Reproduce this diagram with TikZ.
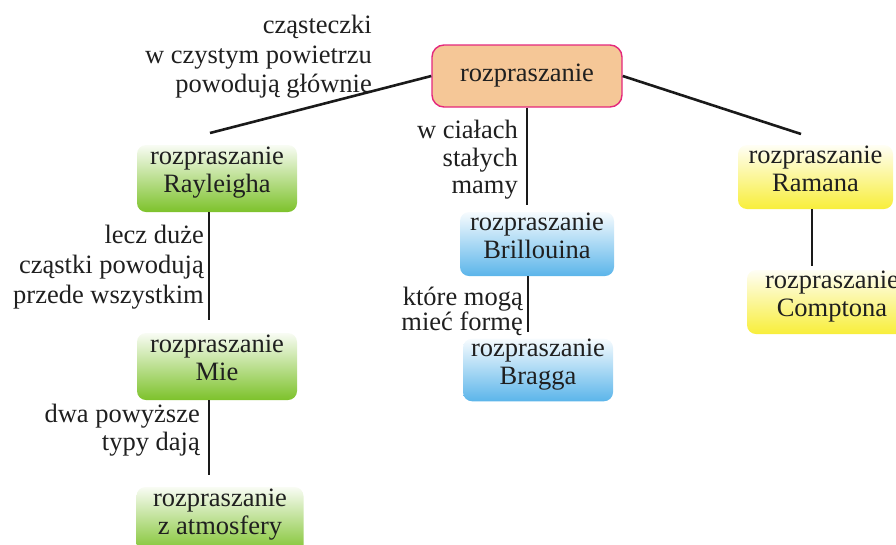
\documentclass[tikz,border=0pt]{standalone}
\usepackage{fontspec}
\setmainfont{Liberation Serif}
\definecolor{rootfill}{HTML}{F5C797}
\definecolor{rootdraw}{HTML}{E4287C}
\definecolor{grn}{HTML}{7DC22B}
\definecolor{blu}{HTML}{5BB5EA}
\definecolor{yel}{HTML}{F8EE3A}
\definecolor{linec}{HTML}{1A1A1A}
\newcommand\boxfont{\fontsize{26.5}{28}\selectfont}
\newcommand\lowstrut{\rule[-17pt]{0pt}{17pt}}
\begin{document}
\begin{tikzpicture}[x=1pt,y=-1pt,
  boxbase/.style={rounded corners=9pt, inner sep=0pt, align=center, font=\boxfont, text=black!88},
  greenbox/.style={boxbase, top color=grn!5, bottom color=grn},
  bluebox/.style={boxbase, top color=blu!5, bottom color=blu},
  yellowbox/.style={boxbase, top color=yel!5, bottom color=yel},
  rootbox/.style={rounded corners=12pt, inner sep=0pt, font=\boxfont, text=black!88, fill=rootfill, draw=rootdraw, line width=1.4pt},
  lbl/.style={anchor=north east, inner sep=0pt, align=right, text=black!88},
  conn/.style={line width=2.6pt, draw=linec}]
\useasboundingbox (0,0) rectangle (896,544);

% boxes
\node[rootbox, minimum width=190pt, minimum height=62pt] (root) at (527,76) {rozpraszanie};
\node[greenbox, minimum width=160pt, minimum height=67pt] (ray) at (217,178.5) {rozpraszanie\\Rayleigha\lowstrut};
\node[greenbox, minimum width=160pt, minimum height=67pt] (mie) at (217,366.5) {rozpraszanie\\Mie\lowstrut};
\node[greenbox, minimum width=167pt, minimum height=67pt] (atm) at (220,520.5) {rozpraszanie\\z atmosfery\lowstrut};
\node[bluebox, minimum width=154pt, minimum height=64pt] (brill) at (537,244) {rozpraszanie\\Brillouina\lowstrut};
\node[bluebox, minimum width=150pt, minimum height=62pt] (bragg) at (538,370) {rozpraszanie\\Bragga\lowstrut};
\node[yellowbox, minimum width=155pt, minimum height=64pt] (ram) at (815.5,177) {rozpraszanie\\Ramana\lowstrut};
\node[yellowbox, minimum width=170pt, minimum height=64pt] (comp) at (832,302) {rozpraszanie\\Comptona\lowstrut};

% labels
\node[lbl, font=\fontsize{26.5}{29.5}\selectfont] (l1) at (372,15) {cząsteczki\\w czystym powietrzu\\powodują głównie};
\node[lbl, font=\fontsize{26.5}{27.5}\selectfont] (l2) at (518,120) {w ciałach\\stałych\\mamy};
\node[lbl, font=\fontsize{26.5}{30}\selectfont] (l3) at (204,225) {lecz duże\\cząstki powodują\\przede wszystkim};
\node[lbl, font=\fontsize{26.5}{25}\selectfont] (l4) at (523,287) {które mogą\\mieć formę};
\node[lbl, font=\fontsize{26.5}{28}\selectfont] (l5) at (200,404) {dwa powyższe\\typy dają};

% connectors
\coordinate (rayin) at (210,133);
\coordinate (ramin) at (801,134);
\draw[conn] (root.west) -- (rayin);
\draw[conn] (root.east) -- (ramin);
\draw[conn, shorten >=7pt] (root.south) -- (root.south |- brill.north);
\coordinate (raydown) at ([xshift=-8pt]ray.south);
\draw[conn, shorten >=13pt] (raydown) -- (raydown |- mie.north);
\coordinate (miedown) at ([xshift=-8pt]mie.south);
\draw[conn, shorten >=12pt] (miedown) -- (miedown |- atm.north);
\coordinate (brilldown) at ([xshift=-9pt]brill.south);
\draw[conn, shorten >=7pt] (brilldown) -- (brilldown |- bragg.north);
\coordinate (ramdown) at ([xshift=-3.5pt]ram.south);
\draw[conn, shorten >=4pt] (ramdown) -- (ramdown |- comp.north);
\end{tikzpicture}
\end{document}
